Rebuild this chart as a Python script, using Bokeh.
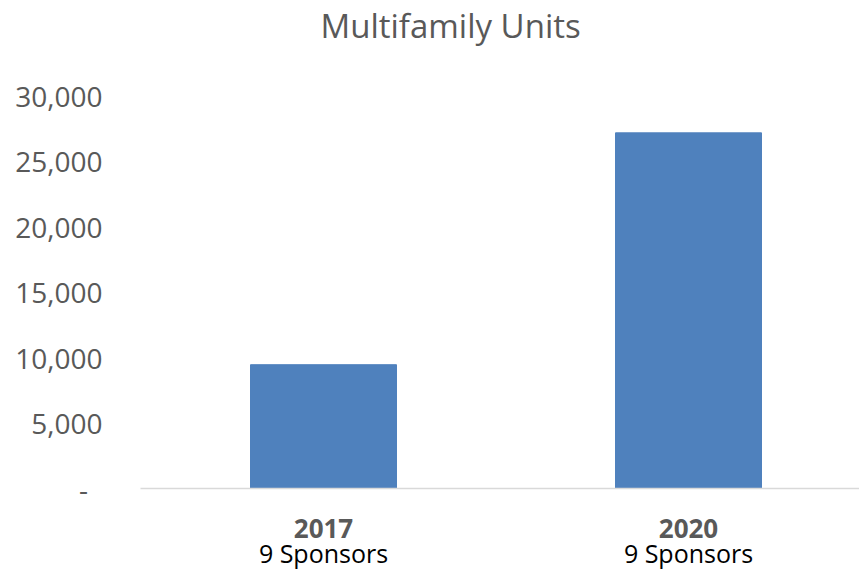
from bokeh.plotting import figure
from bokeh.models import Range1d, FixedTicker, LinearAxis, NumeralTickFormatter
from bokeh.embed import file_html
from bokeh.resources import INLINE

years = ["2017", "2020"]
sponsors = ["9 Sponsors", "9 Sponsors"]
units = [9450, 27150]
y_ticks = [0, 5000, 10000, 15000, 20000, 25000, 30000]

xs = list(range(len(years)))
FONT = "Open Sans"

FW = 719
FH = 441
PX_PER_UNIT = 393 / 30000.0
p = figure(frame_width=FW, frame_height=FH,
           min_border_left=140, min_border_right=0,
           min_border_top=40, min_border_bottom=82,
           output_backend="svg", toolbar_location=None,
           x_range=Range1d(-0.5014, -0.5014 + FW / 365.0),
           y_range=Range1d(0, FH / PX_PER_UNIT),
           title="Multifamily Units")
p.vbar(x=xs, top=units, width=0.4, color="#4f81bd")

p.outline_line_color = None
p.xgrid.grid_line_color = None
p.ygrid.grid_line_color = None
p.background_fill_color = "white"
p.border_fill_color = "white"

p.title.align = "left"
p.title.offset = 180
p.title.text_font = FONT
p.title.text_font_size = "33px"
p.title.text_font_style = "normal"
p.title.text_color = "#595959"
p.title.standoff = 0

xa = p.xaxis[0]
xa.ticker = FixedTicker(ticks=xs)
xa.major_label_overrides = {i: y for i, y in zip(xs, years)}
xa.major_label_text_font = FONT
xa.major_label_text_font_size = "26px"
xa.major_label_text_font_style = "bold"
xa.major_label_text_color = "#595959"
xa.axis_line_color = "#d9d9d9"
xa.axis_line_width = 1.5
xa.major_tick_line_color = None
xa.minor_tick_line_color = None
xa.major_label_standoff = 24

ax2 = LinearAxis(ticker=FixedTicker(ticks=xs),
                 major_label_overrides={i: s for i, s in zip(xs, sponsors)})
ax2.axis_line_color = None
ax2.major_tick_line_color = None
ax2.minor_tick_line_color = None
ax2.major_label_text_font = FONT
ax2.major_label_text_font_size = "25px"
ax2.major_label_text_color = "black"
ax2.major_label_standoff = -11
p.add_layout(ax2, "below")

ya = p.yaxis[0]
ya.ticker = FixedTicker(ticks=y_ticks)
ya.formatter = NumeralTickFormatter(format="0,0")
ya.major_label_overrides = {0: "-\u00a0\u00a0"}
ya.major_label_text_font = FONT
ya.major_label_text_font_size = "28px"
ya.major_label_text_color = "#595959"
ya.axis_line_color = None
ya.major_tick_line_color = None
ya.minor_tick_line_color = None
ya.major_label_standoff = 32

open("out.html", "w").write(file_html(p, INLINE))
